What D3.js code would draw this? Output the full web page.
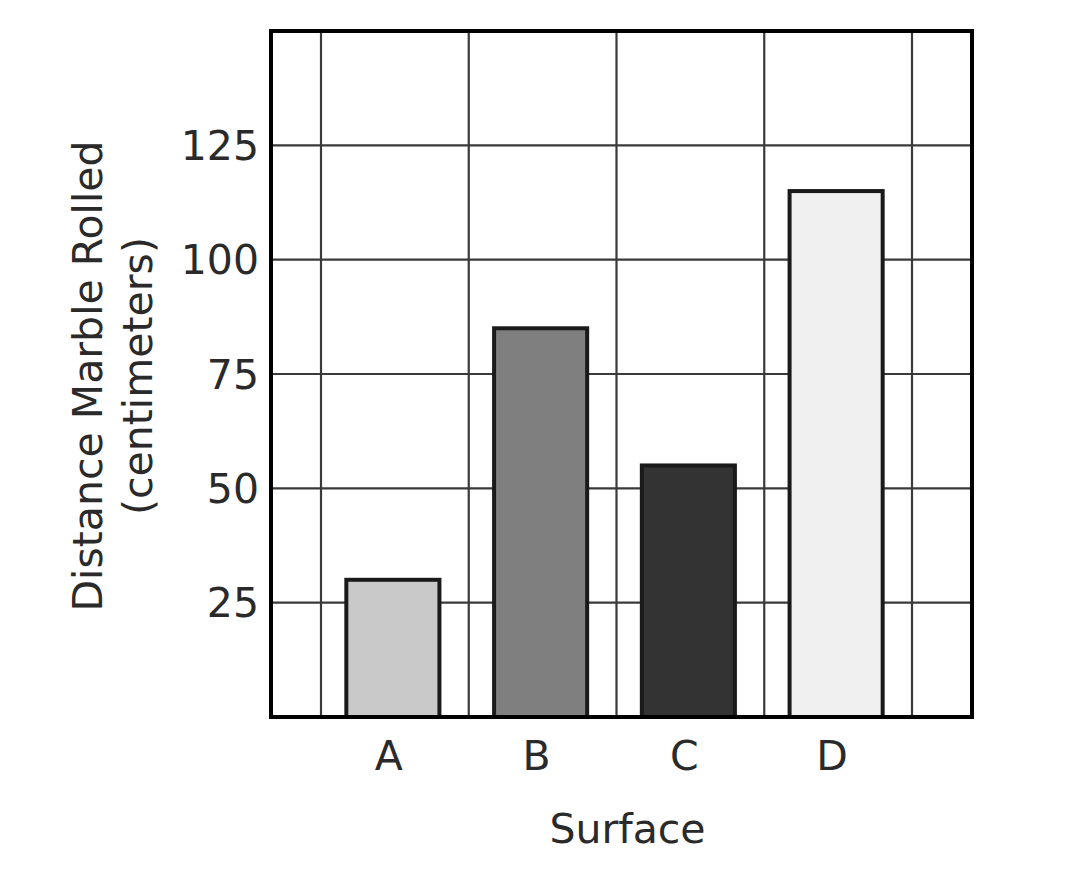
<!DOCTYPE html>
<html>
<head>
<meta charset="utf-8">
<script src="https://cdn.jsdelivr.net/npm/d3@7"></script>
<style>
  body { margin: 0; background: #fff; }
  text { font-family: "DejaVu Sans", Verdana, sans-serif; fill: #2a2a2a; }
</style>
</head>
<body>
<div id="chart"></div>
<script>
const categories = ["A", "B", "C", "D"]
const distances = [30, 85, 55, 115]
const barColors = ["#c9c9c9", "#7f7f7f", "#333333", "#f0f0f0"]
const yTicks = [25, 50, 75, 100, 125]

const width = 1084
const height = 882
const margin = { top: 31, right: 112, bottom: 165, left: 271 }
const plotW = width - margin.left - margin.right
const plotH = height - margin.top - margin.bottom
const fontSize = "41px"

const svg = d3.select("#chart")
  .append("svg")
  .attr("width", width)
  .attr("height", height)

const g = svg.append("g")
  .attr("transform", `translate(${margin.left},${margin.top})`)

// surfaces sit in equal columns, grid lines on the column edges
const x = d3.scaleBand()
  .domain(categories)
  .range([50, plotW - 60])
  .padding(0)

const y = d3.scaleLinear()
  .domain([0, 150])
  .range([plotH, 0])

const barW = x.bandwidth() * 0.63

// grid
const gridX = categories.map(c => x(c)).concat([x.range()[1]])
g.selectAll(".vgrid")
  .data(gridX)
  .join("line")
  .attr("x1", d => d).attr("x2", d => d)
  .attr("y1", 0).attr("y2", plotH)
  .attr("stroke", "#3a3a3a")
  .attr("stroke-width", 2.2)

g.selectAll(".hgrid")
  .data(yTicks)
  .join("line")
  .attr("x1", 0).attr("x2", plotW)
  .attr("y1", d => y(d)).attr("y2", d => y(d))
  .attr("stroke", "#3a3a3a")
  .attr("stroke-width", 2.2)

// bars
g.selectAll(".bar")
  .data(distances)
  .join("rect")
  .attr("x", (d, i) => x(categories[i]) + (x.bandwidth() - barW) / 2 - 2)
  .attr("width", barW)
  .attr("y", d => y(d))
  .attr("height", d => y(0) - y(d))
  .attr("fill", (d, i) => barColors[i])
  .attr("stroke", "#1a1a1a")
  .attr("stroke-width", 4)

// frame
g.append("rect")
  .attr("x", 0).attr("y", 0)
  .attr("width", plotW).attr("height", plotH)
  .attr("fill", "none")
  .attr("stroke", "#000")
  .attr("stroke-width", 4)

// y tick labels
g.selectAll(".ytick")
  .data(yTicks)
  .join("text")
  .attr("x", -12)
  .attr("y", d => y(d))
  .attr("dy", "0.36em")
  .attr("text-anchor", "end")
  .style("font-size", fontSize)
  .text(d => d)

// x tick labels
g.selectAll(".xtick")
  .data(categories)
  .join("text")
  .attr("x", d => x(d) + x.bandwidth() / 2 - 6)
  .attr("y", plotH + 38)
  .attr("dy", "0.36em")
  .attr("text-anchor", "middle")
  .style("font-size", fontSize)
  .text(d => d)

// axis titles
g.append("text")
  .attr("x", plotW / 2 + 6)
  .attr("y", plotH + 111)
  .attr("dy", "0.36em")
  .attr("text-anchor", "middle")
  .style("font-size", fontSize)
  .text("Surface")

const yTitle = g.append("text")
  .attr("transform", `translate(${-181},${plotH / 2 + 2}) rotate(-90)`)
  .attr("text-anchor", "middle")
  .style("font-size", fontSize)

yTitle.append("tspan")
  .attr("x", 0).attr("dy", "0.3em")
  .text("Distance Marble Rolled")
yTitle.append("tspan")
  .attr("x", 0).attr("dy", "1.2em")
  .text("(centimeters)")
</script>
</body>
</html>
